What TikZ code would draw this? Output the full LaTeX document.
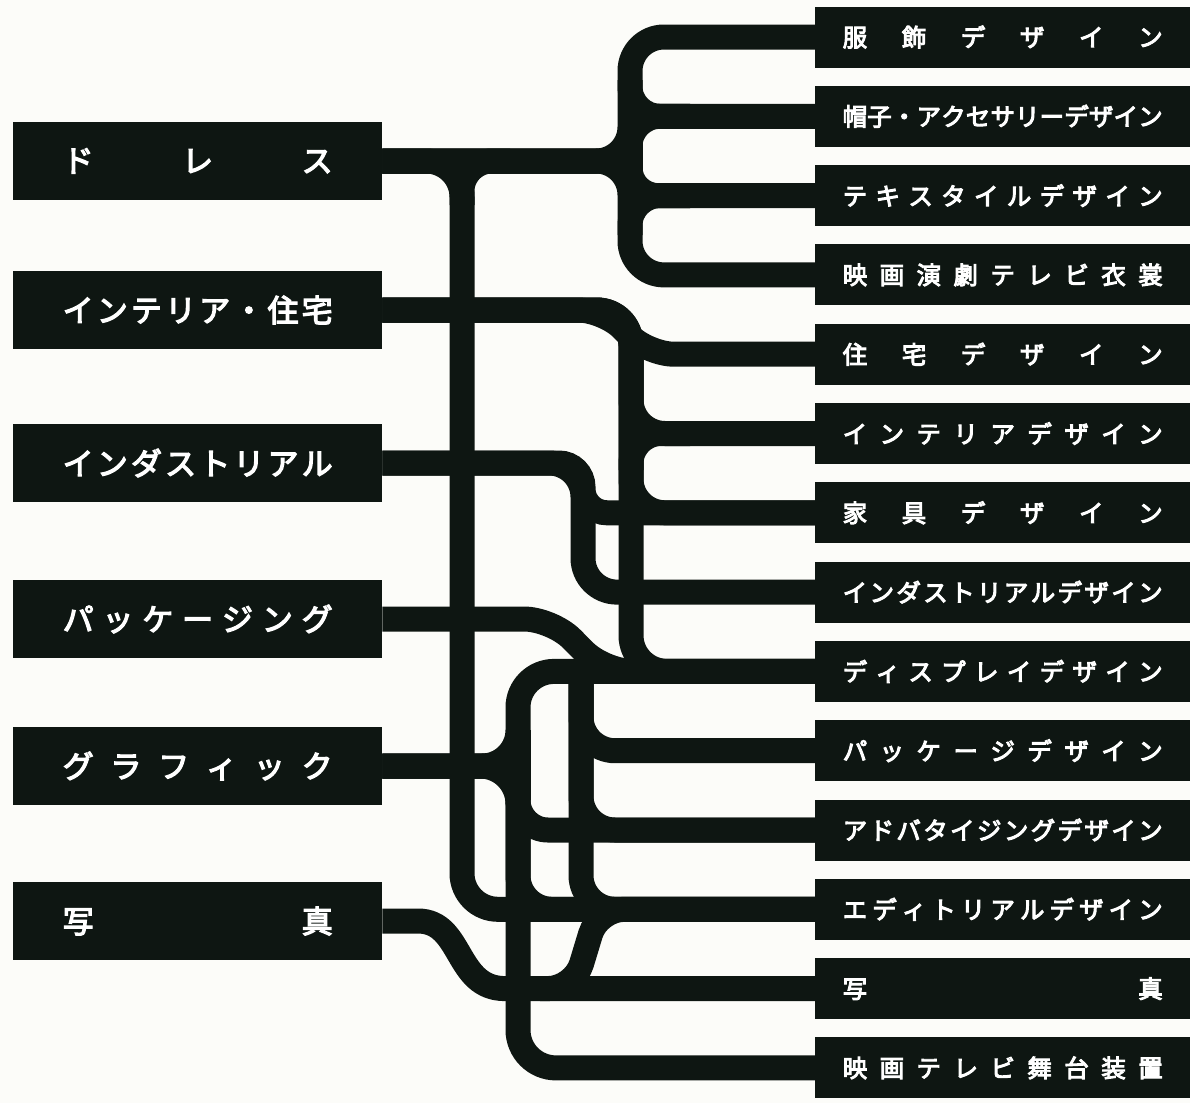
\documentclass[tikz,border=0pt]{standalone}
\usepackage{fontspec}
\newfontfamily\jp[AutoFakeBold=4]{Noto Sans CJK JP}
\definecolor{ink}{RGB}{14,22,18}
\definecolor{paper}{RGB}{252,252,249}
\def\sprd#1{\sprdA#1\relax}
\def\sprdA#1#2{#1\ifx\relax#2\else\hfill\expandafter\sprdA\expandafter#2\fi}
\newcommand\ltxt[1]{\hbox to 270pt{\sprd{#1}}}
\newcommand\rtxt[1]{\hbox to 320pt{\sprd{#1}}}
\begin{document}
\begin{tikzpicture}[x=1pt,y=-1pt,
  lbox/.style={fill=ink, inner sep=0pt, minimum width=369pt, minimum height=78pt, anchor=west, text=white, font=\jp\bfseries\fontsize{31pt}{31pt}\selectfont},
  rbox/.style={fill=ink, inner sep=0pt, minimum width=375pt, minimum height=61pt, anchor=west, text=white, font=\jp\bfseries\fontsize{24.5pt}{24.5pt}\selectfont},
  conn/.style={draw=ink, line width=25pt, rounded corners=#1},
  conn/.default=34pt]
\fill[paper] (0,0) rectangle (1190,1103);
\useasboundingbox (0,0) rectangle (1190,1103);

% left boxes
\node[lbox] (L1) at (13,161) {\ltxt{ドレス}};
\node[lbox] (L2) at (13,310) {\ltxt{インテリア・住宅}};
\node[lbox] (L3) at (13,463) {\ltxt{インダストリアル}};
\node[lbox] (L4) at (13,619) {\ltxt{パッケージング}};
\node[lbox] (L5) at (13,766) {\ltxt{グラフィック}};
\node[lbox] (L6) at (13,921) {\ltxt{写真}};

% right boxes
\node[rbox] (R0)  at (815,37)     {\rtxt{服飾デザイン}};
\node[rbox] (R1)  at (815,116.3)  {\rtxt{帽子・アクセサリーデザイン}};
\node[rbox] (R2)  at (815,195.6)  {\rtxt{テキスタイルデザイン}};
\node[rbox] (R3)  at (815,274.9)  {\rtxt{映画演劇テレビ衣裳}};
\node[rbox] (R4)  at (815,354.2)  {\rtxt{住宅デザイン}};
\node[rbox] (R5)  at (815,433.5)  {\rtxt{インテリアデザイン}};
\node[rbox] (R6)  at (815,512.8)  {\rtxt{家具デザイン}};
\node[rbox] (R7)  at (815,592.1)  {\rtxt{インダストリアルデザイン}};
\node[rbox] (R8)  at (815,671.4)  {\rtxt{ディスプレイデザイン}};
\node[rbox] (R9)  at (815,750.7)  {\rtxt{パッケージデザイン}};
\node[rbox] (R10) at (815,830)    {\rtxt{アドバタイジングデザイン}};
\node[rbox] (R11) at (815,909.3)  {\rtxt{エディトリアルデザイン}};
\node[rbox] (R12) at (815,988.6)  {\rtxt{写真}};
\node[rbox] (R13) at (815,1067.9) {\rtxt{映画テレビ舞台装置}};

\coordinate (jF) at (581,671.4);
\coordinate (jP) at (540,988.6);

% dress
\draw[conn=34pt] (L1.east) -- (630,161) -- (630,37) -- (R0.west);
\draw[conn=18pt] (L1.east) -- (630,161) -- (630,116.3) -- (R1.west);
\draw[conn=14pt] (L1.east) -- (630,161) -- (630,195.6) -- (R2.west);
\draw[conn=34pt] (L1.east) -- (630,161) -- (630,274.9) -- (R3.west);
\draw[conn=0pt] (630,110) -- (630,210);
\draw[conn=30pt] (630,80) -- (630,116.3) -- (690,116.3);
\draw[conn=30pt] (630,150) -- (630,116.3) -- (690,116.3);
\draw[conn=28pt] (630,165) -- (630,195.6) -- (690,195.6);
\draw[conn=30pt] (630,235) -- (630,195.6) -- (690,195.6);
\draw[conn=36pt] (L1.east) -- (462,161) -- (462,909.3) -- (R11.west);
\draw[conn=30pt] (462,205) -- (462,161) -- (510,161);

% interior
\draw[conn=26pt] (L2.east) -- (604,310) -- (648,354.2) -- (R4.west);
\draw[conn=34pt] (L2.east) -- (631,310) -- (631,433.5) -- (R5.west);
\draw[conn=34pt] (L2.east) -- (631,310) -- (631,512.8) -- (R6.west);
\draw[conn=36pt] (L2.east) -- (631,310) -- (631,671.4) -- (R8.west);
\draw[conn=30pt] (631,470) -- (631,433.5) -- (690,433.5);

% industrial
\draw[conn=24pt] (L3.east) -- (583,463) -- (583,512.8) -- (R6.west);
\draw[conn=34pt] (L3.east) -- (583,463) -- (583,592.1) -- (R7.west);

% packaging
\draw[conn=28pt] (L4.east) -- (552,619) -- (604,671.4) -- (R8.west);
\draw[conn=34pt] (jF) -- (581,750.7) -- (R9.west);
\draw[conn=34pt] (jF) -- (581,830) -- (R10.west);
\draw[conn=34pt] (jF) -- (581,909.3) -- (R11.west);

% graphic
\draw[conn=36pt] (L5.east) -- (518,766) -- (518,671.4) -- (R8.west);
\draw[conn=30pt] (L5.east) -- (518,766) -- (518,830) -- (R10.west);
\draw[conn=34pt] (L5.east) -- (518,766) -- (518,909.3) -- (R11.west);
\draw[conn=38pt] (L5.east) -- (518,766) -- (518,1067.9) -- (R13.west);
\draw[conn=0pt] (518,730) -- (518,800);

% photo
\draw[conn=0pt] (L6.east) -- (418,921) .. controls (463,921) and (455,988.6) .. (505,988.6) -- (R12.west);
\draw[conn=26pt] (jP) -- (574,988.6) -- (598,909.3) -- (R11.west);
\end{tikzpicture}
\end{document}
